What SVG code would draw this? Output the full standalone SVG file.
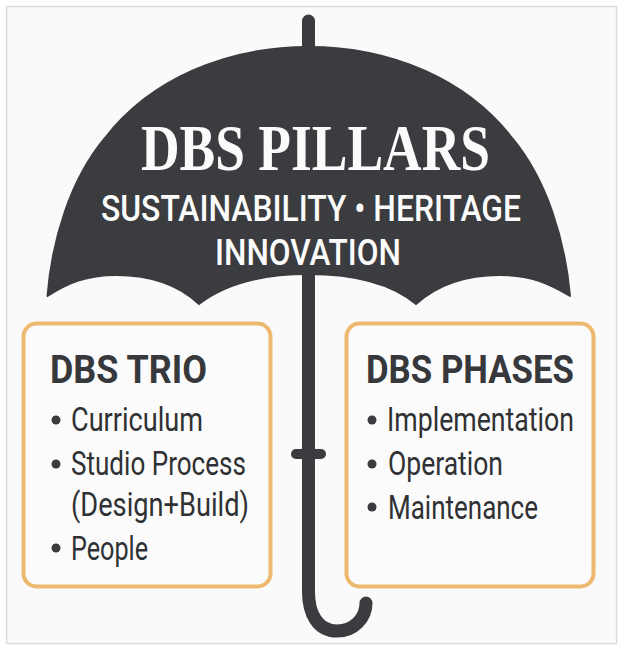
<svg xmlns="http://www.w3.org/2000/svg" width="624" height="651" viewBox="0 0 624 651">
<style>
.dark{fill:#3a3c3f}
.pole{fill:none;stroke:#3a3c3f;stroke-linecap:round}
.box{fill:#fbfbfb;stroke:#ecb96f;stroke-width:4}
.head{font-family:"Roboto","Liberation Sans",sans-serif;font-weight:700;font-size:38px;fill:#36383b}
.item{font-family:"Roboto","Liberation Sans",sans-serif;font-weight:400;font-size:34px;fill:#2f3134}
.sub{font-family:"Roboto","Liberation Sans",sans-serif;font-weight:500;font-size:36px;fill:#fbfbfb}
.title{font-family:"Liberation Serif","DejaVu Serif",serif;font-weight:700;font-size:65px;fill:#fbfbfb}
.bullet{fill:#3a3c3f}
</style>
<rect x="0" y="0" width="624" height="651" fill="#ffffff"/>
<rect x="6.500" y="6.500" width="610" height="637" fill="#fafafa" stroke="#dcdcdc" stroke-width="1.500"/>
<g id="connectors">
<path class="pole" stroke-width="13" d="M308.500 21V592C308.500 614 318 631 337 631C354 631 366 618 366 603"/>
<path class="pole" stroke-width="10" d="M296 454H321"/>
</g>
<g id="umbrella">
<path class="dark" stroke="#3a3c3f" stroke-width="2" stroke-linejoin="round" d="M47.500 296C52 240 70 180 105 138C150 80 225 47 308.500 47C392 47 467 80 512 138C547 180 565 240 570 296C548 283 530 275 500 275C462 275 436 286 416 304C392 284 355 274 308 274C262 274 225 284 199 304C180 286 154 275 116 275C86 275 68 283 47.500 296Z"/>
<text class="title" x="141" y="170" textLength="349" lengthAdjust="spacingAndGlyphs">DBS PILLARS</text>
<text class="sub" x="101" y="221" textLength="420" lengthAdjust="spacingAndGlyphs">SUSTAINABILITY • HERITAGE</text>
<text class="sub" x="215" y="265" textLength="186" lengthAdjust="spacingAndGlyphs">INNOVATION</text>
</g>
<g id="dbs-trio">
<rect class="box" x="23.500" y="323.500" width="247" height="263" rx="13"/>
<text class="head" x="50" y="383" textLength="157" lengthAdjust="spacingAndGlyphs">DBS TRIO</text>
<circle class="bullet" cx="56" cy="420" r="4.500"/>
<text class="item" x="71" y="431" textLength="132" lengthAdjust="spacingAndGlyphs">Curriculum</text>
<circle class="bullet" cx="56" cy="464" r="4.500"/>
<text class="item" x="71" y="475" textLength="175" lengthAdjust="spacingAndGlyphs">Studio Process</text>
<text class="item" x="71" y="516" textLength="178" lengthAdjust="spacingAndGlyphs">(Design+Build)</text>
<circle class="bullet" cx="56" cy="548" r="4.500"/>
<text class="item" x="71" y="560" textLength="77" lengthAdjust="spacingAndGlyphs">People</text>
</g>
<g id="dbs-phases">
<rect class="box" x="346.500" y="323.500" width="247" height="263" rx="13"/>
<text class="head" x="366" y="383" textLength="208" lengthAdjust="spacingAndGlyphs">DBS PHASES</text>
<circle class="bullet" cx="372" cy="420" r="4.500"/>
<text class="item" x="387" y="431" textLength="187" lengthAdjust="spacingAndGlyphs">Implementation</text>
<circle class="bullet" cx="372" cy="464" r="4.500"/>
<text class="item" x="388" y="475" textLength="115" lengthAdjust="spacingAndGlyphs">Operation</text>
<circle class="bullet" cx="372" cy="507" r="4.500"/>
<text class="item" x="388" y="519" textLength="150" lengthAdjust="spacingAndGlyphs">Maintenance</text>
</g>
</svg>
